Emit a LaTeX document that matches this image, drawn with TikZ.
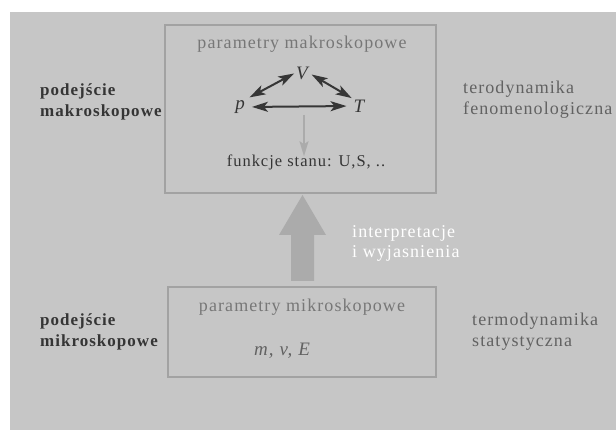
\documentclass[tikz,border=0pt]{standalone}
\usepackage{fontspec}
\setmainfont{Liberation Serif}[LetterSpace=6]
\usetikzlibrary{arrows.meta}
\definecolor{bg}{HTML}{C6C6C6}
\definecolor{frame}{HTML}{A2A2A2}
\definecolor{lighttxt}{HTML}{777777}
\definecolor{midtxt}{HTML}{626262}
\definecolor{darktxt}{HTML}{353535}
\definecolor{arrowdark}{HTML}{363636}
\definecolor{arrowlight}{HTML}{ABABAB}
\definecolor{bigarrow}{HTML}{ABABAB}
\tikzset{
  panel/.style={draw=frame, line width=1.6pt},
  heading/.style={text=lighttxt, font=\fontsize{18}{20}\selectfont, inner sep=0pt},
  sidelabel/.style={text=darktxt, font=\fontsize{17}{21}\selectfont\bfseries, align=left, anchor=west, inner sep=0pt},
  grouplabel/.style={text=midtxt, font=\fontsize{18}{21}\selectfont, align=left, anchor=west, inner sep=0pt},
  var/.style={text=arrowdark, font=\fontsize{19}{20}\selectfont\itshape, inner sep=1pt},
  relation/.style={arrowdark, line width=2pt, {Stealth[length=16pt,width=10pt,inset=4pt]}-{Stealth[length=16pt,width=10pt,inset=4pt]}}
}
\begin{document}
\begin{tikzpicture}[x=1pt,y=-1pt]
\useasboundingbox (0,0) rectangle (616,430);
\fill[bg] (10,12) rectangle (616,430);

% macroscopic block
\draw[panel] (165,25) rectangle (436,193);
\node[heading] (mh) at (302,44) {parametry makroskopowe};
\node[var] (V) at (302,73) {V};
\node[var] (p) at (240,107) {p};
\node[var] (T) at (359,106) {T};
\draw[relation, shorten <=4pt, shorten >=1pt] (p.north east) -- (V.west);
\draw[relation, shorten <=3pt, shorten >=1pt] (V.east) -- (T.north west);
\draw[relation, shorten <=6pt, shorten >=6pt] (p.east) -- (T.west);
\coordinate (dtop) at (304,115);
\node[text=darktxt, font=\fontsize{16.5}{18}\selectfont, inner sep=0pt] (fs) at (306,162) {funkcje stanu: U,S, ..};
\draw[arrowlight, line width=2pt, -{Stealth[length=15pt,width=9pt,inset=3pt]}] (dtop) -- ([yshift=-2pt]fs.north -| dtop);

% microscopic block
\draw[panel] (168,287) rectangle (436,377);
\node[heading] (uh) at (302,307) {parametry mikroskopowe};
\node[text=midtxt, font=\fontsize{19}{20}\selectfont\itshape, inner sep=0pt] (mvE) at (282,351) {m, v, E};

% explanation arrow between the blocks
\fill[bigarrow] (291,281) -- (291,235) -- (279,235) -- (302.5,195) -- (326,235) -- (314,235) -- (314,281) -- cycle;
\node[text=white, font=\fontsize{18}{20}\selectfont, align=left, anchor=west, inner sep=0pt] (ie) at (352,243) {interpretacje\\i wyjasnienia};

% side labels
\node[sidelabel] (lm) at (40,102) {podejście\\makroskopowe};
\node[grouplabel] (rm) at (463,100) {terodynamika\\fenomenologiczna};
\node[sidelabel] (lu) at (40,332) {podejście\\mikroskopowe};
\node[grouplabel] (ru) at (472,332) {termodynamika\\statystyczna};
\end{tikzpicture}
\end{document}
